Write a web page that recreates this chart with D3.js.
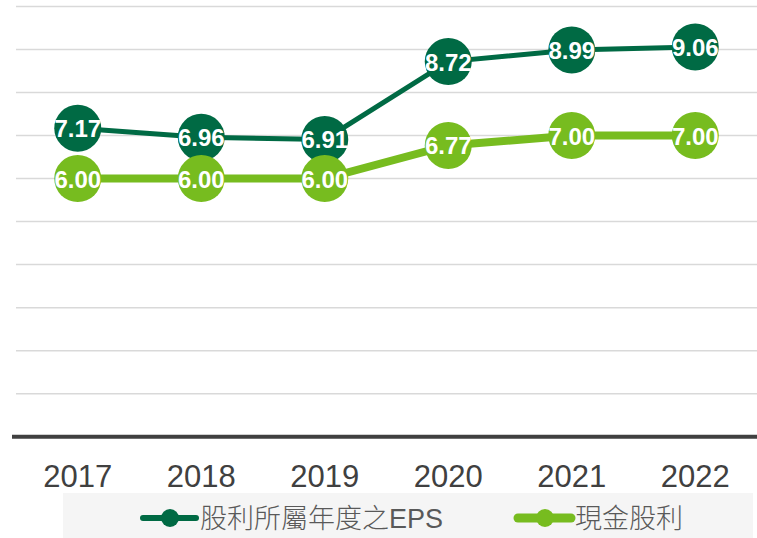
<!DOCTYPE html>
<html>
<head>
<meta charset="utf-8">
<script src="https://cdn.jsdelivr.net/npm/d3@7"></script>
<style>
  body { margin: 0; background: #fff; }
  svg { display: block; font-family: "Liberation Sans", Arial, "Noto Sans CJK TC", sans-serif; }
</style>
</head>
<body>
<svg id="chart"></svg>
<script>
const years = ["2017", "2018", "2019", "2020", "2021", "2022"];
const epsValues = [7.17, 6.96, 6.91, 8.72, 8.99, 9.06];
const cashValues = [6.00, 6.00, 6.00, 6.77, 7.00, 7.00];
const seriesNames = ["股利所屬年度之EPS", "現金股利"];
const gridTicks = [0, 1, 2, 3, 4, 5, 6, 7, 8, 9, 10];

const W = 757, H = 538;
const plot = { left: 16, right: 757, top: 6.5, bottom: 436.7 };

const svg = d3.select("#chart").attr("width", W).attr("height", H);

const x = d3.scaleBand().domain(years).range([plot.left, plot.right]);
const y = d3.scaleLinear().domain([0, 10]).range([plot.bottom, plot.top]);

// gridlines
svg.append("g").selectAll("line")
    .data(gridTicks.filter(d => d > 0))
    .enter().append("line")
    .attr("x1", plot.left).attr("x2", plot.right)
    .attr("y1", d => y(d)).attr("y2", d => y(d))
    .attr("stroke", "#d9d9d9")
    .attr("stroke-width", 1.5);

// x axis
svg.append("line")
    .attr("x1", 12).attr("x2", plot.right)
    .attr("y1", y(0)).attr("y2", y(0))
    .attr("stroke", "#404040")
    .attr("stroke-width", 4);

svg.append("g").selectAll("text")
    .data(years)
    .enter().append("text")
    .attr("x", d => x(d) + x.bandwidth() / 2)
    .attr("y", 487)
    .attr("text-anchor", "middle")
    .attr("fill", "#404040")
    .style("font-size", "31px")
    .text(d => d);

const series = [
    { name: seriesNames[0], values: epsValues, color: "#006a44", width: 5 },
    { name: seriesNames[1], values: cashValues, color: "#77bc1f", width: 8 }
];

const line = d3.line()
    .x((d, i) => x(years[i]) + x.bandwidth() / 2)
    .y(d => y(d));

series.forEach(s => {
    const g = svg.append("g");
    g.append("path")
        .datum(s.values)
        .attr("d", line)
        .attr("fill", "none")
        .attr("stroke", s.color)
        .attr("stroke-width", s.width);

    g.selectAll("circle")
        .data(s.values)
        .enter().append("circle")
        .attr("cx", (d, i) => x(years[i]) + x.bandwidth() / 2)
        .attr("cy", d => y(d))
        .attr("r", 23.5)
        .attr("fill", s.color);

    g.selectAll("text")
        .data(s.values)
        .enter().append("text")
        .attr("x", (d, i) => x(years[i]) + x.bandwidth() / 2)
        .attr("y", d => y(d) + 9)
        .attr("text-anchor", "middle")
        .attr("fill", "#fff")
        .style("font-size", "24px")
        .style("font-weight", "bold")
        .text(d => d.toFixed(2));
});

// legend
svg.append("rect")
    .attr("x", 63).attr("y", 493)
    .attr("width", 690).attr("height", 45)
    .attr("fill", "#f5f5f5");

const legendX = [140, 515];
series.forEach((s, i) => {
    const lg = svg.append("g").attr("transform", `translate(${legendX[i]},518)`);
    lg.append("line")
        .attr("x1", 3).attr("x2", 56)
        .attr("y1", 0).attr("y2", 0)
        .attr("stroke", s.color)
        .attr("stroke-width", s.width + 1)
        .attr("stroke-linecap", "round");
    lg.append("circle")
        .attr("cx", 30).attr("cy", 0)
        .attr("r", 9)
        .attr("fill", s.color);
    lg.append("text")
        .attr("x", 60).attr("y", 10)
        .attr("fill", "#595959")
        .style("font-size", "27px")
        .style("font-weight", "300")
        .text(s.name);
});
</script>
</body>
</html>
